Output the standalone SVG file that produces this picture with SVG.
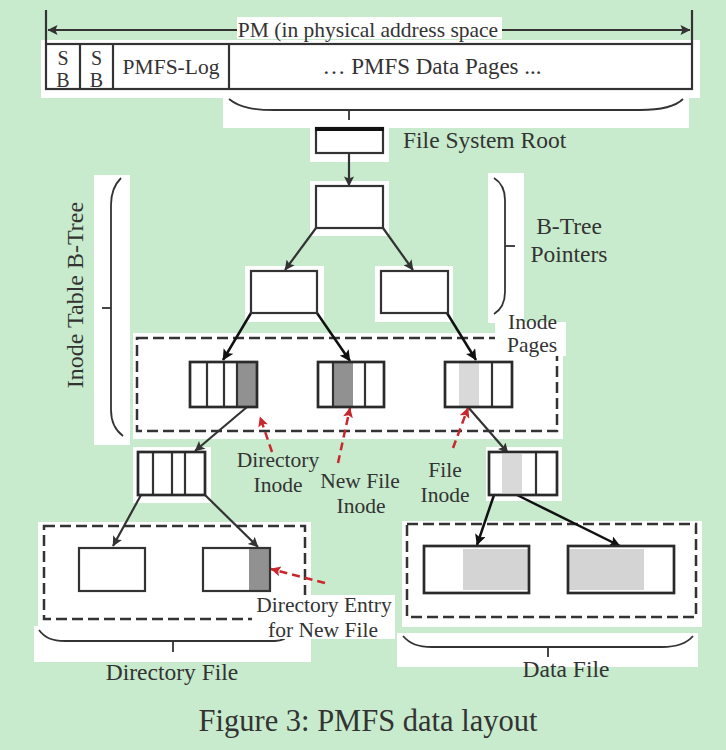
<svg xmlns="http://www.w3.org/2000/svg" width="726" height="750" viewBox="0 0 726 750">
<defs>
<marker id="ah" viewBox="0 0 10 10" refX="9.5" refY="5" markerWidth="11" markerHeight="10" orient="auto-start-reverse" markerUnits="userSpaceOnUse"><path d="M0,0 L10,5 L0,10 L2,5 z" fill="#333"/></marker>
<marker id="ahk" viewBox="0 0 10 10" refX="9.5" refY="5" markerWidth="12" markerHeight="11" orient="auto" markerUnits="userSpaceOnUse"><path d="M0,0 L10,5 L0,10 L2,5 z" fill="#111"/></marker>
<marker id="ahr" viewBox="0 0 10 10" refX="9.5" refY="5" markerWidth="11" markerHeight="10" orient="auto" markerUnits="userSpaceOnUse"><path d="M0,0 L10,5 L0,10 L2,5 z" fill="#c8282d"/></marker>
<style>
.pad{fill:#fff}
.box{fill:#fff;stroke:#333;stroke-width:2.2}
.outline{fill:none;stroke:#333;stroke-width:2.2}
.thick{fill:none;stroke:#2a2a2a;stroke-width:2.7}
.div{stroke:#333;stroke-width:2.2}
.dash{fill:none;stroke:#333;stroke-width:2.5;stroke-dasharray:11 5}
.brace{fill:none;stroke:#333;stroke-width:1.8}
.c{fill:none;stroke:#333;stroke-width:2.2;marker-end:url(#ah)}
.ck{fill:none;stroke:#111;stroke-width:2.5;marker-end:url(#ahk)}
.cr{fill:none;stroke:#c8282d;stroke-width:2.5;stroke-dasharray:8 5;marker-end:url(#ahr)}
.dg{fill:#919191}
.lg{fill:#d9d9d9}
text{font-family:"Liberation Serif","Times New Roman",serif;fill:#333}
.t21{font-size:21.5px}
.t23{font-size:23.5px}
.mid{text-anchor:middle}
</style>
</defs>
<rect width="726" height="750" fill="#c7ebcc"/>
<g id="pads">
<rect class="pad" x="41" y="40" width="659" height="58"/>
<rect class="pad" x="223" y="97" width="466" height="31"/>
<rect class="pad" x="310" y="122" width="79" height="40"/>
<rect class="pad" x="310" y="181" width="79" height="55"/>
<rect class="pad" x="245" y="266" width="79" height="56"/>
<rect class="pad" x="375" y="266" width="78" height="56"/>
<rect class="pad" x="94" y="175" width="36" height="270"/>
<rect class="pad" x="488" y="173" width="36" height="150"/>
<rect class="pad" x="133" y="333" width="430" height="106"/>
<rect class="pad" x="133" y="447" width="78" height="56"/>
<rect class="pad" x="486" y="447" width="76" height="54"/>
<rect class="pad" x="38" y="522" width="273" height="104"/>
<rect class="pad" x="34" y="626" width="277" height="36"/>
<rect class="pad" x="402" y="521" width="300" height="106"/>
<rect class="pad" x="397" y="633" width="301" height="34"/>
</g>
<g id="containers">
<rect class="dash" x="137" y="338" width="420" height="93"/>
<rect class="dash" x="44" y="526" width="261" height="93"/>
<rect class="dash" x="407" y="524" width="289" height="93"/>
</g>
<g id="connectors">
<line class="div" x1="46" y1="10" x2="46" y2="44"/>
<line class="div" x1="692" y1="10" x2="692" y2="44"/>
<line x1="48" y1="30" x2="690" y2="30" stroke="#333" stroke-width="2.2" marker-start="url(#ah)" marker-end="url(#ah)"/>
<path class="brace" d="M229,99 C240,108 255,110 275,110 L640,110 C660,110 675,107 683,99"/>
<line class="brace" x1="349" y1="110" x2="349" y2="120"/>
<path class="brace" d="M121,178 C114,185 111,195 111,205 L111,410 C111,422 115,430 123,436"/>
<line class="brace" x1="102" y1="308" x2="111" y2="308"/>
<path class="brace" d="M494,178 C502,183 505,190 505,200 L505,292 C505,302 502,309 494,314"/>
<line class="brace" x1="505" y1="246" x2="515" y2="246"/>
<path class="brace" d="M39,630 C45,638 52,641 65,641 L275,641 C283,641 288,637 291,632"/>
<line class="brace" x1="173" y1="641" x2="173" y2="652"/>
<path class="brace" d="M403,636 C410,644 418,647 432,647 L662,647 C678,647 688,642 693,636"/>
<line class="brace" x1="548" y1="647" x2="548" y2="657"/>
<line class="c" x1="349" y1="153" x2="349" y2="186"/>
<line class="c" x1="316" y1="228" x2="285" y2="270"/>
<line class="c" x1="383" y1="228" x2="413" y2="270"/>
<line class="ck" x1="251" y1="313" x2="223" y2="360"/>
<line class="ck" x1="317" y1="313" x2="350" y2="361"/>
<line class="ck" x1="447" y1="313" x2="476" y2="360"/>
<line class="c" x1="247" y1="407" x2="195" y2="451"/>
<line class="c" x1="468" y1="407" x2="508" y2="453"/>
<line class="c" x1="141" y1="495" x2="113" y2="546"/>
<line class="c" x1="205" y1="495" x2="258" y2="547"/>
<line class="ck" x1="494" y1="495" x2="477" y2="545"/>
<line class="ck" x1="517" y1="495" x2="620" y2="546"/>
<line class="cr" x1="272" y1="452" x2="260" y2="417"/>
<line class="cr" x1="338" y1="463" x2="350" y2="408"/>
<line class="cr" x1="453" y1="448" x2="468" y2="408"/>
<line class="cr" x1="325" y1="583" x2="271" y2="569"/>
</g>
<g id="label-pads">
<rect class="pad" x="237" y="17" width="265" height="22"/>
<rect class="pad" x="495" y="322" width="71" height="34"/>
<rect class="pad" x="252" y="595" width="143" height="44"/>
</g>
<g id="pm">
<rect class="box" x="46" y="44" width="646" height="45"/>
<line class="div" x1="80" y1="44" x2="80" y2="89"/>
<line class="div" x1="113" y1="44" x2="113" y2="89"/>
<line class="div" x1="229" y1="44" x2="229" y2="89"/>
<text class="mid" x="63" y="65" font-size="20">S</text>
<text class="mid" x="63" y="87" font-size="20">B</text>
<text class="mid" x="96.5" y="65" font-size="20">S</text>
<text class="mid" x="96.5" y="87" font-size="20">B</text>
<text class="mid t21" x="171" y="74">PMFS-Log</text>
<text class="mid" x="432" y="74" font-size="23">… PMFS Data Pages ...</text>
<text class="mid t21" x="368" y="37">PM (in physical address space</text>
</g>
<g id="root">
<rect class="box" x="316" y="128" width="67" height="25"/>
<line x1="315" y1="129" x2="384" y2="129" stroke="#111" stroke-width="4"/>
<text class="t23" x="403" y="148">File System Root</text>
</g>
<g id="btree-top"><rect class="box" x="316" y="186" width="67" height="42"/></g>
<g id="btree-left"><rect class="box" x="251" y="271" width="66" height="42"/></g>
<g id="btree-right"><rect class="box" x="381" y="271" width="67" height="42"/></g>
<g id="inode-table-label">
<text class="mid" font-size="24" transform="translate(83,295) rotate(-90)">Inode Table B-Tree</text>
</g>
<g id="btree-pointers-label">
<text class="mid t23" x="569" y="234">B-Tree</text>
<text class="mid t23" x="569" y="262">Pointers</text>
</g>
<g id="inode-pages-label">
<text class="t21" x="508" y="329">Inode</text>
<text class="t21" x="507" y="352">Pages</text>
</g>
<g id="inode-page-1">
<rect fill="#fff" x="190" y="362" width="67" height="45"/>
<rect class="dg" x="237" y="362" width="20" height="45"/>
<line class="div" x1="207" y1="362" x2="207" y2="407"/>
<line class="div" x1="224" y1="362" x2="224" y2="407"/>
<line class="div" x1="237" y1="362" x2="237" y2="407"/>
<rect class="thick" x="190" y="362" width="67" height="45"/>
</g>
<g id="inode-page-2">
<rect fill="#fff" x="318" y="362" width="66" height="45"/>
<rect class="dg" x="333" y="362" width="20" height="45"/>
<line class="div" x1="333" y1="362" x2="333" y2="407"/>
<line class="div" x1="365" y1="362" x2="365" y2="407"/>
<rect class="thick" x="318" y="362" width="66" height="45"/>
</g>
<g id="inode-page-3">
<rect fill="#fff" x="445" y="362" width="67" height="45"/>
<rect class="lg" x="459" y="363" width="20" height="43"/>
<line class="div" x1="492" y1="362" x2="492" y2="407"/>
<rect class="thick" x="445" y="362" width="67" height="45"/>
</g>
<g id="dir-inode-label">
<text class="mid t21" x="278" y="467">Directory</text>
<text class="mid t21" x="278" y="492">Inode</text>
</g>
<g id="new-file-inode-label">
<text class="mid t21" x="360" y="488">New File</text>
<text class="mid t21" x="361" y="513">Inode</text>
</g>
<g id="file-inode-label">
<text class="mid t21" x="445" y="477">File</text>
<text class="mid t21" x="445" y="502">Inode</text>
</g>
<g id="dir-block">
<rect fill="#fff" x="138" y="452" width="67" height="43"/>
<line class="div" x1="153" y1="452" x2="153" y2="495"/>
<line class="div" x1="172" y1="452" x2="172" y2="495"/>
<line class="div" x1="185" y1="452" x2="185" y2="495"/>
<rect class="thick" x="138" y="452" width="67" height="43"/>
</g>
<g id="file-block">
<rect fill="#fff" x="489" y="452" width="68" height="43"/>
<rect class="lg" x="502" y="454" width="20" height="39"/>
<line class="div" x1="536" y1="452" x2="536" y2="495"/>
<rect class="thick" x="489" y="452" width="68" height="43"/>
</g>
<g id="dir-page-1"><rect class="box" x="79" y="548" width="66" height="43"/></g>
<g id="dir-page-2">
<rect fill="#fff" x="203" y="548" width="67" height="43"/>
<rect class="dg" x="249" y="548" width="21" height="43"/>
<rect class="outline" x="203" y="548" width="67" height="43"/>
</g>
<g id="dir-entry-label">
<text class="mid t21" x="324" y="612">Directory Entry</text>
<text class="mid t21" x="323" y="637">for New File</text>
</g>
<g id="data-page-1">
<rect fill="#fff" x="424" y="546" width="105" height="47"/>
<rect fill="#d4d4d4" x="463" y="549" width="66" height="41"/>
<rect class="thick" x="424" y="546" width="105" height="47" stroke-width="3"/>
</g>
<g id="data-page-2">
<rect fill="#fff" x="568" y="546" width="106" height="47"/>
<rect fill="#d4d4d4" x="569" y="549" width="75" height="41"/>
<rect class="thick" x="568" y="546" width="106" height="47" stroke-width="3"/>
</g>
<g id="group-labels">
<text class="mid t23" x="172" y="680">Directory File</text>
<text class="mid t23" x="566" y="677">Data File</text>
<text class="mid" x="368" y="731" font-size="30.5">Figure 3: PMFS data layout</text>
</g>
</svg>
